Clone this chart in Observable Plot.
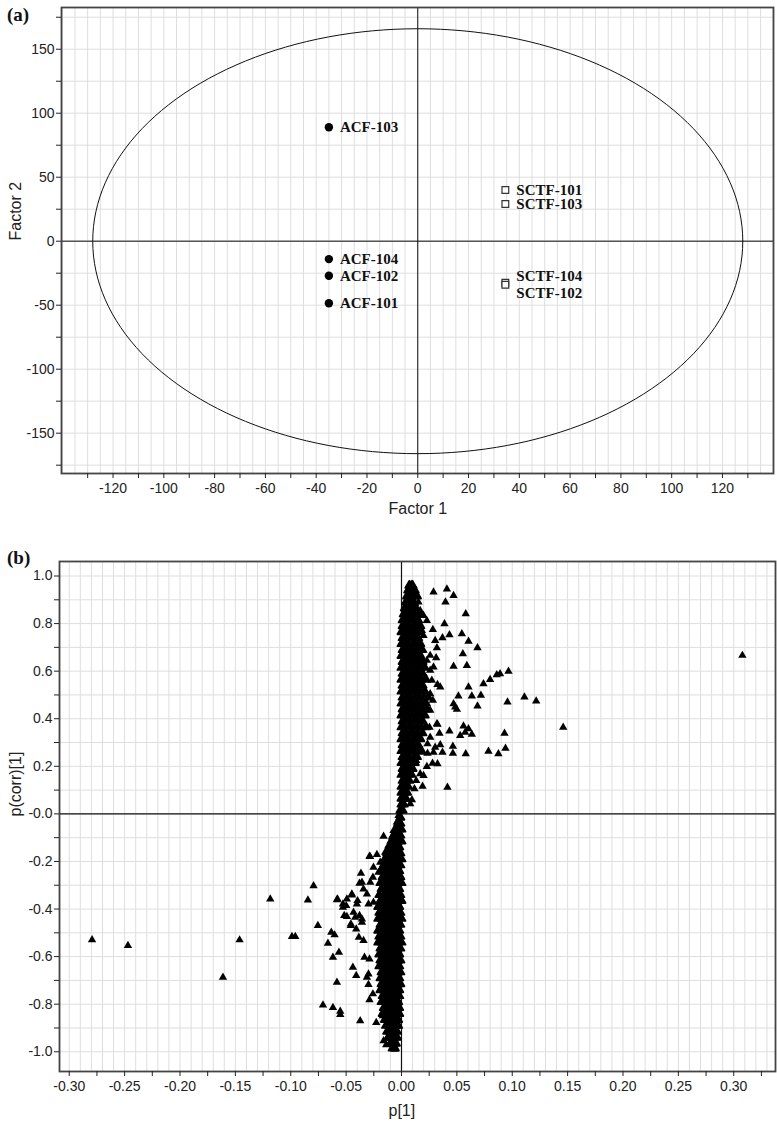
<!DOCTYPE html>
<html><head><meta charset="utf-8">
<script src="https://cdn.jsdelivr.net/npm/d3@7"></script>
<script src="https://cdn.jsdelivr.net/npm/@observablehq/plot@0.6"></script>
<style>
body{margin:0;background:#fff;}
#wrap{position:relative;width:777px;height:1125px;overflow:hidden;}
.panel{position:absolute;left:0;}
.tag{position:absolute;z-index:2;font-family:"Liberation Serif","Times New Roman",serif;font-weight:bold;font-size:19px;color:#111;line-height:1;}
</style></head><body>
<div id="wrap">
<div id="pa" class="panel" style="top:0"></div>
<div id="pb" class="panel" style="top:540px"></div>
<div class="tag" style="left:7px;top:5px">(a)</div>
<div class="tag" style="left:7px;top:548px">(b)</div>
</div>
<script>
// ---------- Panel (a): score plot ----------
const scoreNames = ["ACF-103","ACF-104","ACF-102","ACF-101","SCTF-101","SCTF-103","SCTF-104","SCTF-102"];
const scoreGroup = ["ACF","ACF","ACF","ACF","SCTF","SCTF","SCTF","SCTF"];
const scoreF1 = [-35,-35,-35,-35,34.5,34.5,34.5,34.5];
const scoreF2 = [89,-14,-27,-48.5,40,29,-32.5,-34];
const ellipseRadii = [128,166]; // Hotelling T2 ellipse semi-axes (Factor 1, Factor 2)
const aXTicks = [-130,-120,-110,-100,-90,-80,-70,-60,-50,-40,-30,-20,-10,0,10,20,30,40,50,60,70,80,90,100,110,120,130];
const aYTicks = [-175,-150,-125,-100,-75,-50,-25,0,25,50,75,100,125,150,175];

// ---------- Panel (b): S-plot ----------
const sOutliers = [
[0.0088,0.965],[0.0289,0.932],[0.041,0.945],[0.047,0.918],[0.0397,0.890],[0.058,0.841],[0.0388,0.799],
[0.0283,0.775],[0.0433,0.753],[0.0545,0.757],[0.037,0.740],[0.0304,0.729],[0.0605,0.725],[0.0686,0.698],
[0.032,0.698],[0.0554,0.673],[0.0313,0.656],[0.047,0.620],[0.059,0.623],[0.0966,0.599],[0.089,0.589],
[0.086,0.585],[0.080,0.565],[0.074,0.547],[0.0325,0.544],[0.035,0.533],[0.0605,0.533],[0.0514,0.495],
[0.0635,0.495],[0.0717,0.498],[0.111,0.491],[0.1216,0.474],[0.0957,0.470],[0.047,0.463],[0.0485,0.449],
[0.050,0.439],[0.0686,0.453],[0.146,0.364],[0.3078,0.666],[0.056,0.369],[0.0605,0.358],[0.0575,0.343],
[0.053,0.329],[0.0635,0.334],[0.0433,0.348],[0.0343,0.339],[0.0325,0.376],[0.093,0.339],[0.0939,0.276],
[0.0875,0.252],[0.0785,0.263],[0.058,0.252],[0.0464,0.255],[0.0464,0.284],[0.037,0.259],[0.035,0.290],
[0.0304,0.280],[0.0289,0.259],[0.0235,0.255],[0.0178,0.259],[0.0235,0.294],[0.0325,0.210],[0.028,0.213],
[0.0229,0.199],[0.0199,0.161],[0.0169,0.168],[0.0415,0.112],[0.019,0.116],[0.0133,0.140],[0.0117,0.105],
[0.0094,0.059],[0.0079,0.042],[0.0133,0.224],[0.0259,0.322],[0.0253,0.364],[0.032,0.379],[0.0259,0.435],
[0.0283,0.477],[0.0259,0.505],[0.0274,0.561],[0.0259,0.603],[0.0289,0.617],[0.0259,0.666],[0.0229,0.645],
[0.0199,0.687],[0.0229,0.813],[0.0199,0.834],[0.0169,0.855],[0.0139,0.918],[0.0108,0.925],[0.0153,0.890],
[0.0124,0.883],[0.0063,0.862],[0.0079,0.834],[0.0184,0.771],[0.0199,0.750],
[-0.2794,-0.529],[-0.247,-0.554],[-0.1612,-0.687],[-0.1462,-0.530],[-0.1185,-0.358],[-0.0989,-0.516],
[-0.0959,-0.516],[-0.0845,-0.362],[-0.0794,-0.302],[-0.0755,-0.470],[-0.0709,-0.804],[-0.0664,-0.544],
[-0.0634,-0.498],[-0.0604,-0.509],[-0.0619,-0.603],[-0.0619,-0.814],[-0.0583,-0.361],[-0.0583,-0.708],
[-0.0565,-0.582],[-0.0553,-0.830],[-0.0553,-0.844],[-0.0529,-0.379],[-0.0529,-0.393],[-0.0493,-0.358],
[-0.0493,-0.432],[-0.0448,-0.341],[-0.0457,-0.470],[-0.0439,-0.645],[-0.0409,-0.680],[-0.0397,-0.365],
[-0.0409,-0.484],[-0.0385,-0.519],[-0.0373,-0.870],[-0.0366,-0.250],[-0.0379,-0.292],[-0.0379,-0.428],
[-0.0357,-0.456],[-0.0343,-0.533],[-0.0334,-0.603],[-0.0312,-0.687],[-0.0298,-0.718],[-0.0289,-0.782],
[-0.0283,-0.180],[-0.0258,-0.757],[-0.0228,-0.877],[-0.0222,-0.171],[-0.0192,-0.204],[-0.0289,-0.610],
[-0.0298,-0.673],[-0.0168,-0.849],[-0.0162,-0.954],[-0.0138,-0.971],[-0.0057,-0.989],
[-0.0162,-0.094],[-0.0289,-0.178],[-0.0253,-0.225],[-0.0357,-0.288],[-0.0578,-0.358],[-0.0448,-0.337],
[-0.0499,-0.386],[-0.0517,-0.428],[-0.0433,-0.414],[-0.0403,-0.379],[-0.0343,-0.316],[-0.0312,-0.337],
[-0.0282,-0.288],[-0.0258,-0.267],[-0.0357,-0.442],[-0.0418,-0.435],[-0.0457,-0.463],[-0.0298,-0.379],
[-0.0253,-0.372],[-0.0208,-0.246],[-0.0177,-0.225],[-0.0147,-0.162],[-0.0117,-0.133],[-0.0087,-0.098],
[-0.0072,-0.070],[-0.0042,-0.035],[-0.0027,-0.007]
];
// dense core, read row by row: [p(corr)[1], [p[1] values]]
const sCoreUpper = [
[0.96,[0.007,0.010]],[0.94,[0.006,0.009,0.012]],[0.915,[0.005,0.008,0.011,0.014]],[0.89,[0.004,0.007,0.011]],
[0.865,[0.003,0.006,0.009,0.013]],[0.84,[0.002,0.005,0.009,0.012,0.016]],[0.815,[0.001,0.004,0.008,0.011,0.015]],
[0.79,[0.001,0.004,0.007,0.011,0.014,0.017]],[0.765,[0.000,0.003,0.007,0.010,0.013,0.016]],
[0.74,[0.001,0.004,0.008,0.012,0.015]],[0.715,[0.000,0.003,0.006,0.010,0.013,0.017]],
[0.69,[0.001,0.004,0.008,0.011,0.015,0.018]],[0.665,[0.000,0.003,0.007,0.010,0.014,0.017]],
[0.64,[0.001,0.004,0.008,0.012,0.016,0.019]],[0.615,[0.000,0.003,0.006,0.010,0.013,0.017,0.021]],
[0.59,[0.001,0.005,0.008,0.012,0.015,0.019]],[0.565,[0.000,0.003,0.007,0.010,0.014,0.018,0.022]],
[0.54,[0.001,0.004,0.008,0.011,0.015,0.019]],[0.515,[0.000,0.003,0.006,0.010,0.013,0.017,0.021]],
[0.49,[0.001,0.005,0.008,0.012,0.016,0.020,0.024]],[0.465,[0.000,0.003,0.007,0.010,0.014,0.018,0.022]],
[0.44,[0.001,0.004,0.008,0.011,0.015,0.019,0.023]],[0.415,[0.000,0.003,0.006,0.010,0.013,0.017,0.021]],
[0.39,[0.001,0.004,0.008,0.012,0.015,0.019]],[0.365,[0.000,0.003,0.007,0.010,0.014,0.018,0.022]],
[0.34,[0.001,0.004,0.008,0.011,0.015,0.019]],[0.315,[0.000,0.003,0.006,0.010,0.013,0.017]],
[0.29,[0.001,0.004,0.008,0.011,0.015]],[0.265,[0.000,0.003,0.007,0.010,0.014,0.018]],
[0.24,[0.001,0.004,0.007,0.011,0.014]],[0.215,[0.000,0.003,0.006,0.009,0.012]],
[0.19,[0.001,0.004,0.007,0.010]],[0.165,[0.000,0.003,0.006,0.009]],[0.14,[0.001,0.004,0.007]],
[0.115,[0.000,0.003,0.006]],[0.09,[0.000,0.003,0.005]],[0.065,[0.000,0.002,0.004]],[0.04,[0.000,0.002]],
[0.015,[-0.001,0.001]]
];
const sCoreLower = [
[-0.015,[-0.001]],[-0.04,[-0.003,-0.001]],[-0.065,[-0.005,-0.002,0.000]],[-0.09,[-0.007,-0.004,-0.001]],
[-0.115,[-0.009,-0.006,-0.003,0.000]],[-0.14,[-0.011,-0.008,-0.005,-0.002]],
[-0.165,[-0.013,-0.010,-0.007,-0.004,-0.001]],[-0.19,[-0.015,-0.012,-0.009,-0.006,-0.003,0.000]],
[-0.215,[-0.016,-0.013,-0.010,-0.007,-0.004,-0.001]],[-0.24,[-0.018,-0.014,-0.011,-0.008,-0.005,-0.002]],
[-0.265,[-0.017,-0.013,-0.010,-0.007,-0.004,-0.001]],[-0.29,[-0.019,-0.015,-0.012,-0.009,-0.006,-0.003,0.000]],
[-0.315,[-0.018,-0.014,-0.011,-0.008,-0.005,-0.002]],[-0.34,[-0.020,-0.016,-0.013,-0.010,-0.007,-0.004,-0.001]],
[-0.365,[-0.019,-0.015,-0.012,-0.009,-0.006,-0.003,0.000]],[-0.39,[-0.021,-0.017,-0.014,-0.011,-0.008,-0.005,-0.002]],
[-0.415,[-0.020,-0.016,-0.013,-0.010,-0.007,-0.004,-0.001]],[-0.44,[-0.021,-0.018,-0.015,-0.012,-0.009,-0.006,-0.003,0.000]],
[-0.465,[-0.019,-0.016,-0.013,-0.010,-0.007,-0.004,-0.001]],[-0.49,[-0.021,-0.017,-0.014,-0.011,-0.008,-0.005,-0.002]],
[-0.515,[-0.020,-0.016,-0.013,-0.010,-0.007,-0.004,-0.001]],[-0.54,[-0.021,-0.018,-0.015,-0.012,-0.009,-0.006,-0.003,0.000]],
[-0.565,[-0.019,-0.016,-0.013,-0.010,-0.007,-0.004,-0.001]],[-0.59,[-0.020,-0.017,-0.014,-0.011,-0.008,-0.005,-0.002]],
[-0.615,[-0.019,-0.015,-0.012,-0.009,-0.006,-0.003,-0.001]],[-0.64,[-0.020,-0.017,-0.014,-0.011,-0.008,-0.005,-0.002]],
[-0.665,[-0.018,-0.015,-0.012,-0.009,-0.006,-0.003,-0.001]],[-0.69,[-0.019,-0.016,-0.013,-0.010,-0.007,-0.004,-0.002]],
[-0.715,[-0.018,-0.015,-0.012,-0.009,-0.006,-0.003,-0.001]],[-0.74,[-0.019,-0.016,-0.013,-0.010,-0.007,-0.004,-0.002]],
[-0.765,[-0.017,-0.014,-0.011,-0.008,-0.005,-0.002]],[-0.79,[-0.018,-0.015,-0.012,-0.009,-0.006,-0.003]],
[-0.815,[-0.016,-0.013,-0.010,-0.007,-0.004,-0.002]],[-0.84,[-0.017,-0.014,-0.011,-0.008,-0.005,-0.002]],
[-0.865,[-0.015,-0.012,-0.009,-0.006,-0.003]],[-0.89,[-0.014,-0.011,-0.008,-0.005,-0.003]],
[-0.915,[-0.013,-0.010,-0.007,-0.004]],[-0.94,[-0.012,-0.009,-0.006,-0.004]],
[-0.965,[-0.010,-0.007,-0.005]],[-0.985,[-0.008,-0.006]]
];
const bXTicks = [-0.3,-0.275,-0.25,-0.225,-0.2,-0.175,-0.15,-0.125,-0.1,-0.075,-0.05,-0.025,0,0.025,0.05,0.075,0.1,0.125,0.15,0.175,0.2,0.225,0.25,0.275,0.3,0.325];
const bYTicks = [-1.0,-0.9,-0.8,-0.7,-0.6,-0.5,-0.4,-0.3,-0.2,-0.1,0,0.1,0.2,0.3,0.4,0.5,0.6,0.7,0.8,0.9,1.0];

// ---------- build ----------
const sans = "'Liberation Sans', Arial, Helvetica, sans-serif";
const serif = "'Liberation Serif', 'Times New Roman', serif";
const gridColor = "#dedede";
const frameColor = "#444";

const scores = scoreNames.map((n, i) => ({name: n, group: scoreGroup[i], f1: scoreF1[i], f2: scoreF2[i]}));
const ellipse = d3.range(0, 361, 2).map(deg => {
  const t = deg * Math.PI / 180;
  return {x: ellipseRadii[0] * Math.cos(t), y: ellipseRadii[1] * Math.sin(t)};
});
const labelNudge = {"SCTF-104": -7, "SCTF-102": 8};
const labelStyle = {x: "f1", y: "f2", text: "name", dx: 11, textAnchor: "start", fontFamily: serif, fontWeight: "bold", fontSize: 15, fill: "#111"};

const plotA = Plot.plot({
  width: 777, height: 540,
  marginLeft: 61, marginRight: 4, marginTop: 7, marginBottom: 67,
  style: {fontFamily: sans, fontSize: "14px", color: "#222", background: "white"},
  x: {domain: [-140.3, 140.1]},
  y: {domain: [-181.5, 182.6]},
  marks: [
    Plot.gridX(d3.range(-140, 141, 5), {stroke: gridColor, strokeOpacity: 1}),
    Plot.gridY(d3.range(-175, 176, 25), {stroke: gridColor, strokeOpacity: 1}),
    Plot.ruleY([0], {stroke: "#555", strokeWidth: 1.6}),
    Plot.ruleX([0], {stroke: "#111", strokeWidth: 1}),
    Plot.line(ellipse, {x: "x", y: "y", stroke: "#111", strokeWidth: 1}),
    Plot.dot(scores.filter(d => d.group === "ACF"), {x: "f1", y: "f2", r: 4.2, fill: "#000", stroke: "none"}),
    Plot.dot(scores.filter(d => d.group === "SCTF"), {x: "f1", y: "f2", symbol: "square", r: 3.8, fill: "white", stroke: "#333", strokeWidth: 1.2}),
    Plot.text(scores.filter(d => !(d.name in labelNudge)), labelStyle),
    Plot.text(scores.filter(d => d.name === "SCTF-104"), {...labelStyle, dy: labelNudge["SCTF-104"]}),
    Plot.text(scores.filter(d => d.name === "SCTF-102"), {...labelStyle, dy: labelNudge["SCTF-102"]}),
    Plot.frame({stroke: frameColor, strokeWidth: 1.8}),
    Plot.axisX({ticks: aXTicks, tickFormat: d => d % 20 === 0 ? String(d) : "", tickSize: 5, tickPadding: 5, label: null, fontSize: 14}),
    Plot.axisY({ticks: aYTicks, tickFormat: d => d % 50 === 0 ? String(d) : "", tickSize: 5, tickPadding: 2, label: null, fontSize: 14}),
    Plot.text(["Factor 1"], {frameAnchor: "bottom", dx: -29, dy: 40, textAnchor: "start", fontSize: 16, fill: "#222"}),
    Plot.text(["Factor 2"], {frameAnchor: "left", dx: -46, rotate: -90, fontSize: 16, fill: "#222"})
  ]
});
document.getElementById("pa").appendChild(plotA);

const sOutPts = sOutliers.map(([x, y]) => ({x, y}));
const sCorePts = [
  ...sCoreUpper.flatMap(([y, xs]) => xs.map(x => ({x, y}))),
  ...sCoreLower.flatMap(([y, xs]) => xs.map(x => ({x, y})))
];

const plotB = Plot.plot({
  width: 777, height: 585,
  marginLeft: 59, marginRight: 2, marginTop: 21, marginBottom: 54,
  style: {fontFamily: sans, fontSize: "14px", color: "#222", background: "white"},
  x: {domain: [-0.3088, 0.3377]},
  y: {domain: [-1.083, 1.061]},
  marks: [
    Plot.gridX(d3.range(-30, 34).map(i => i / 100), {stroke: gridColor, strokeOpacity: 1}),
    Plot.gridY(d3.range(-10, 11).map(i => i / 10), {stroke: gridColor, strokeOpacity: 1}),
    Plot.ruleY([0], {stroke: "#111", strokeWidth: 1.2}),
    Plot.ruleX([0], {stroke: "#111", strokeWidth: 1.2}),
    Plot.dot(sCorePts, {x: "x", y: "y", symbol: "triangle", r: 3, fill: "#000", stroke: "#000", strokeWidth: 1.8, strokeLinejoin: "round"}),
    Plot.dot(sOutPts, {x: "x", y: "y", symbol: "triangle", r: 3.1, fill: "#000", stroke: "none"}),
    Plot.frame({stroke: frameColor, strokeWidth: 1.8}),
    Plot.axisX({ticks: bXTicks, tickFormat: d => Math.round(d * 1000) % 50 === 0 ? d.toFixed(2) : "", tickSize: 5, tickPadding: 5, label: null, fontSize: 14}),
    Plot.axisY({ticks: bYTicks, tickFormat: d => Math.round(d * 10) % 2 === 0 ? (d === 0 ? "-0.0" : d.toFixed(1)) : "", tickSize: 5, tickPadding: 2, label: null, fontSize: 14}),
    Plot.text(["p[1]"], {frameAnchor: "bottom", dx: -29, dy: 44, textAnchor: "start", fontSize: 16, fill: "#222"}),
    Plot.text(["p(corr)[1]"], {frameAnchor: "left", dx: -44, rotate: -90, fontSize: 16, fill: "#222"})
  ]
});
document.getElementById("pb").appendChild(plotB);
</script>
</body></html>
